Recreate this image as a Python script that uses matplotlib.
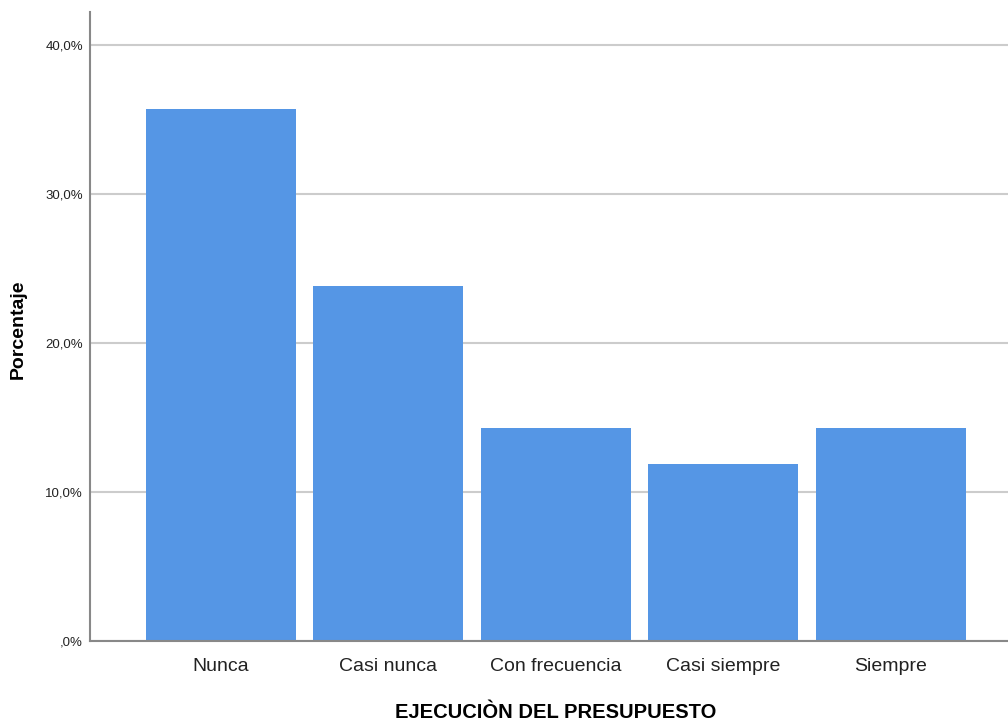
import matplotlib.pyplot as plt
from matplotlib.ticker import FuncFormatter

categorias = ['Nunca', 'Casi nunca', 'Con frecuencia', 'Casi siempre', 'Siempre']
porcentajes = [35.7, 23.8, 14.3, 11.9, 14.3]
yticks = [0, 10, 20, 30, 40]

plt.rcParams['font.family'] = ['Liberation Sans', 'DejaVu Sans']


def formato(v, p):
    txt = ('%.1f%%' % v).replace('.', ',')
    return txt[1:] if v == 0 else txt


fig = plt.figure(figsize=(10.08, 7.22), dpi=100)
ax = fig.add_axes([90 / 1008, 81 / 722, 1 - 90 / 1008, 629 / 722])

ax.bar(range(len(categorias)), porcentajes, width=0.896, color='#5596e5', zorder=2)

ax.set_xlim(-0.78, 4.70)
ax.set_ylim(0, 42.2)
ax.set_yticks(yticks)
ax.yaxis.set_major_formatter(FuncFormatter(formato))
ax.set_xticks(range(len(categorias)))
ax.set_xticklabels(categorias, fontsize=14, color='#222222')
ax.tick_params(axis='y', labelsize=9.5, length=0, pad=5, labelcolor='#222222')
ax.tick_params(axis='x', length=0, pad=12)

ax.grid(axis='y', color='#cccccc', linewidth=1.5, zorder=1)
for s in ['top', 'right']:
    ax.spines[s].set_visible(False)
for s in ['left', 'bottom']:
    ax.spines[s].set_color('#888888')
    ax.spines[s].set_linewidth(1.5)
    ax.spines[s].set_zorder(3)

# posiciones de las etiquetas de los ejes (en pixeles de la referencia)
ax.set_xlabel('EJECUCIÒN DEL PRESUPUESTO', fontsize=14.5, fontweight='bold')
ax.xaxis.set_label_coords((556 - 90) / 918, -(703 - 641) / 629)
ax.set_ylabel('Porcentaje', fontsize=14, fontweight='bold')
ax.yaxis.set_label_coords(-(90 - 27) / 918, (641 - 329) / 629)

fig.savefig('out.png', dpi=100)
